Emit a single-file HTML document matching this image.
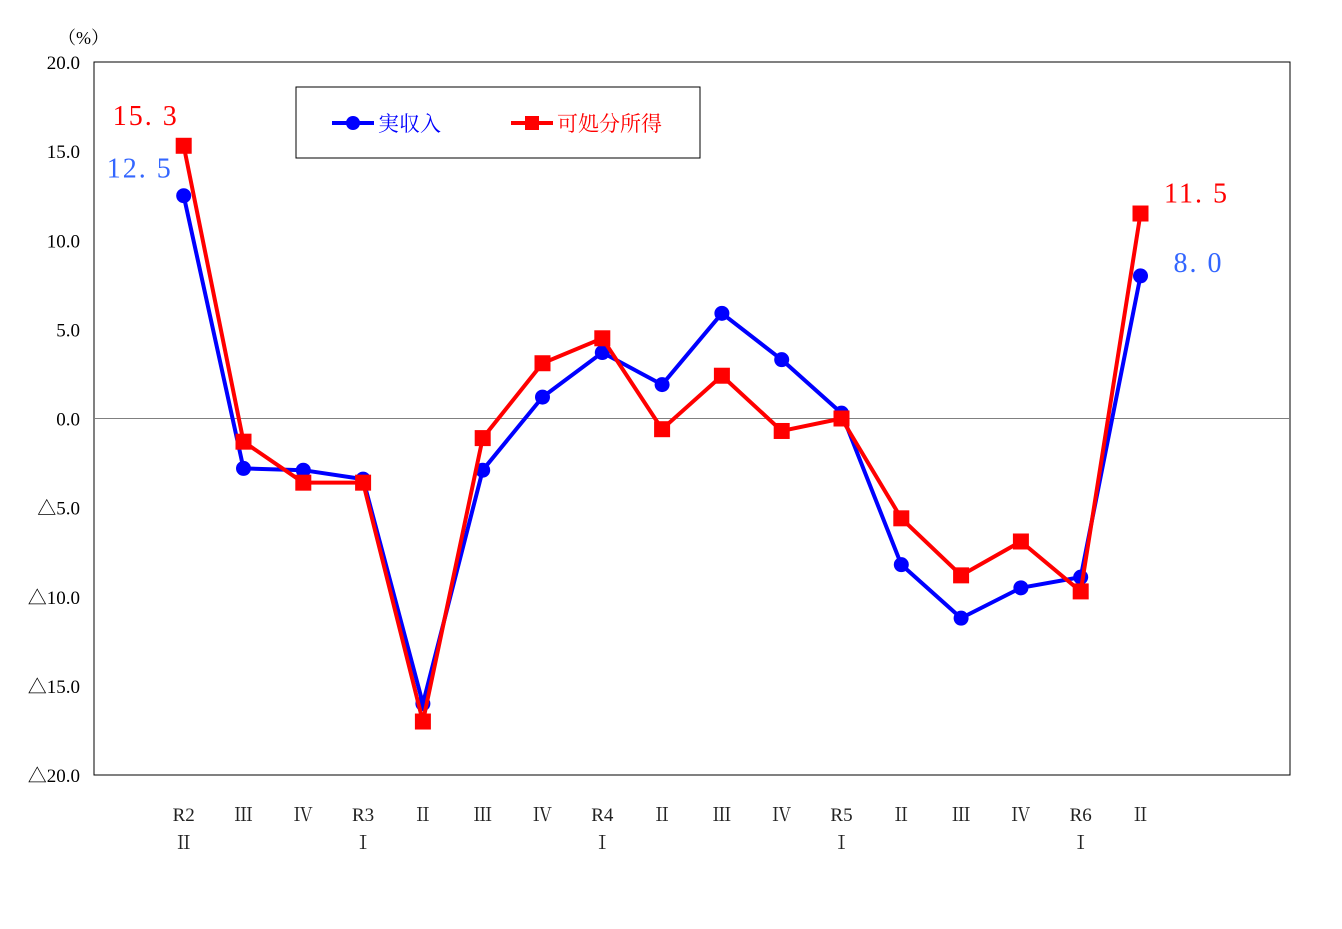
<!DOCTYPE html>
<html><head><meta charset="utf-8"><style>
html,body{margin:0;padding:0;background:#fff;}
svg text{font-family:"Liberation Serif","Noto Serif CJK SC",serif;}
</style></head><body>
<svg id="chart" width="1342" height="924" xmlns="http://www.w3.org/2000/svg">
<rect x="0" y="0" width="1342" height="924" fill="#fff"/>
<text x="58" y="44" font-size="18">（%）</text>
<rect x="94" y="62" width="1196" height="713" fill="none" stroke="#000" stroke-width="1"/>
<g id="yticks"></g>
<g id="xticks"></g>
<line id="zero" stroke="#808080" stroke-width="1"/>
<g id="series"></g>
<g id="labels"></g>
<g>
<rect x="296" y="87" width="404" height="71" fill="#fff" stroke="#000"/>
<line x1="332" y1="123" x2="374" y2="123" stroke="#0000ff" stroke-width="4"/>
<circle cx="353" cy="123" r="7" fill="#0000ff"/>
<text x="378" y="131" font-size="21" fill="#0000ff" font-family="Liberation Sans,Noto Sans CJK JP,sans-serif">実収入</text>
<line x1="511" y1="123" x2="553" y2="123" stroke="#ff0000" stroke-width="4"/>
<rect x="525" y="116" width="14" height="14" fill="#ff0000"/>
<text x="557" y="131" font-size="21" fill="#ff0000" font-family="Liberation Sans,Noto Sans CJK JP,sans-serif">可処分所得</text>
</g>
</svg>
<script>
const categoriesTop = ["R2","Ⅲ","Ⅳ","R3","Ⅱ","Ⅲ","Ⅳ","R4","Ⅱ","Ⅲ","Ⅳ","R5","Ⅱ","Ⅲ","Ⅳ","R6","Ⅱ"];
const categoriesBottom = ["Ⅱ","","","Ⅰ","","","","Ⅰ","","","","Ⅰ","","","","Ⅰ",""];
const incomeValues = [12.5,-2.8,-2.9,-3.4,-16.0,-2.9,1.2,3.7,1.9,5.9,3.3,0.3,-8.2,-11.2,-9.5,-8.9,8.0];
const disposableValues = [15.3,-1.3,-3.6,-3.6,-17.0,-1.1,3.1,4.5,-0.6,2.4,-0.7,0.0,-5.6,-8.8,-6.9,-9.7,11.5];
const yTickValues = [20,15,10,5,0,-5,-10,-15,-20];
const yTickLabels = ["20.0","15.0","10.0","5.0","0.0","△5.0","△10.0","△15.0","△20.0"];

const NS="http://www.w3.org/2000/svg";
const X0=94,W=1196,Y0=62,H=713,SLOTS=20;
function xs(i){return X0+W/SLOTS*(i+1.5);}
function ys(v){return Y0+(20-v)/40*H;}
function mk(tag,attrs,parent){const e=document.createElementNS(NS,tag);for(const k in attrs)e.setAttribute(k,attrs[k]);parent.appendChild(e);return e;}

const yt=document.getElementById('yticks');
yTickValues.forEach((v,i)=>{
  const t=mk('text',{x:80,y:ys(v)+7,'font-size':19,'text-anchor':'end'},yt);
  
  
  t.textContent=yTickLabels[i];
});
const z=document.getElementById('zero');
z.setAttribute('x1',X0);z.setAttribute('x2',X0+W);z.setAttribute('y1',ys(0));z.setAttribute('y2',ys(0));

const xt=document.getElementById('xticks');
categoriesTop.forEach((c,i)=>{
  const t=mk('text',{x:xs(i),y:821,'font-size':19,'text-anchor':'middle',fill:'#222','font-family':'Liberation Sans,Noto Sans CJK JP,sans-serif'},xt);
  
  
  t.textContent=c;
  if(categoriesBottom[i]){
    const b=mk('text',{x:xs(i),y:849,'font-size':19,'text-anchor':'middle',fill:'#222','font-family':'Liberation Sans,Noto Sans CJK JP,sans-serif'},xt);
    
    
    b.textContent=categoriesBottom[i];
  }
});

const sg=document.getElementById('series');
function drawLine(vals,color,name,square){
  const p=mk('polyline',{points:vals.map((v,i)=>xs(i)+','+ys(v)).join(' '),fill:'none',stroke:color,'stroke-width':4,'stroke-linejoin':'round'},sg);
  
  
  vals.forEach((v,i)=>{
    let m;
    if(square) m=mk('rect',{x:xs(i)-8,y:ys(v)-8,width:16,height:16,fill:color},sg);
    else m=mk('circle',{cx:xs(i),cy:ys(v),r:7.5,fill:color},sg);
    
    
  });
}
drawLine(incomeValues,'#0000ff','income',false);
drawLine(disposableValues,'#ff0000','disposable',true);

const lg=document.getElementById('labels');
function lab(v,x,y,color){
  const t=mk('text',{x:x,y:y,'font-size':28,fill:color,'text-anchor':'middle','letter-spacing':'2'},lg);
  
  
  t.textContent=v.toFixed(1).replace('.','. ');
}
const n=incomeValues.length-1;
lab(disposableValues[0],xs(0)-38,ys(disposableValues[0])-21,'#ff0000');
lab(incomeValues[0],xs(0)-44,ys(incomeValues[0])-18,'#3366ff');
lab(disposableValues[n],xs(n)+56,ys(disposableValues[n])-11,'#ff0000');
lab(incomeValues[n],xs(n)+58,ys(incomeValues[n])-4,'#3366ff');
</script>
</body></html>
